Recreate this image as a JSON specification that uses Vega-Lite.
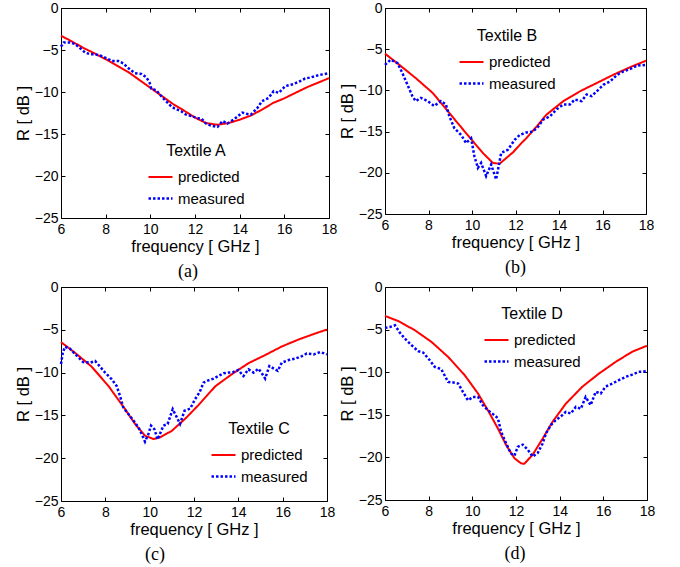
{
  "$schema": "https://vega.github.io/schema/vega-lite/v6.json",
  "background": "white",
  "padding": {"left": 14, "top": 0, "right": 5, "bottom": 5},
  "config": {
    "font": "Liberation Sans",
    "view": {"stroke": "black", "strokeWidth": 1},
    "axis": {"grid": false, "domain": false, "tickColor": "black", "tickSize": -4, "tickWidth": 1, "labelFlush": false, "labelColor": "black", "labelFontSize": 14, "labelFont": "Liberation Sans", "titleFont": "Liberation Sans", "titleFontSize": 16.5, "titleFontWeight": "normal", "titleColor": "black"},
    "axisX": {"labelPadding": 8, "titlePadding": 2},
    "axisY": {"labelPadding": 7, "titlePadding": 3},
    "legend": {"titleFontSize": 16, "titleFontWeight": "normal", "titleColor": "black", "titleFont": "Liberation Sans", "labelFont": "Liberation Sans", "labelFontSize": 15, "labelColor": "black", "titleAnchor": "middle", "symbolType": "stroke", "symbolSize": 576, "symbolStrokeWidth": 2.2, "labelOffset": 4, "rowPadding": -1.5, "titlePadding": 5},
    "title": {"font": "Liberation Serif", "fontSize": 18, "fontWeight": "normal", "orient": "bottom", "anchor": "middle", "color": "black", "offset": 8}
  },
  "datasets": {
    "A": [
      {"f":6,"R":-3.3,"s":"predicted"},{"f":6.5,"R":-4.0,"s":"predicted"},{"f":7,"R":-4.75,"s":"predicted"},{"f":7.5,"R":-5.4,"s":"predicted"},{"f":8,"R":-6.1,"s":"predicted"},{"f":8.5,"R":-6.85,"s":"predicted"},{"f":9,"R":-7.6,"s":"predicted"},{"f":9.5,"R":-8.55,"s":"predicted"},{"f":10,"R":-9.5,"s":"predicted"},{"f":10.5,"R":-10.45,"s":"predicted"},{"f":11,"R":-11.4,"s":"predicted"},{"f":11.5,"R":-12.2,"s":"predicted"},{"f":12,"R":-13.05,"s":"predicted"},{"f":12.5,"R":-13.7,"s":"predicted"},{"f":13,"R":-13.9,"s":"predicted"},{"f":13.5,"R":-13.7,"s":"predicted"},{"f":14,"R":-13.3,"s":"predicted"},{"f":14.5,"R":-12.8,"s":"predicted"},{"f":15,"R":-12.1,"s":"predicted"},{"f":15.5,"R":-11.3,"s":"predicted"},{"f":16,"R":-10.75,"s":"predicted"},{"f":16.5,"R":-10.1,"s":"predicted"},{"f":17,"R":-9.45,"s":"predicted"},{"f":17.5,"R":-8.9,"s":"predicted"},{"f":18,"R":-8.35,"s":"predicted"},
      {"f":6.0,"R":-4.6,"s":"measured"},{"f":6.12,"R":-4.1,"s":"measured"},{"f":6.41,"R":-4.1,"s":"measured"},{"f":6.64,"R":-4.3,"s":"measured"},{"f":6.86,"R":-4.8,"s":"measured"},{"f":7.08,"R":-5.3,"s":"measured"},{"f":7.3,"R":-5.5,"s":"measured"},{"f":7.52,"R":-5.5,"s":"measured"},{"f":7.75,"R":-5.66,"s":"measured"},{"f":7.97,"R":-5.9,"s":"measured"},{"f":8.27,"R":-6.3,"s":"measured"},{"f":8.56,"R":-6.3,"s":"measured"},{"f":8.79,"R":-6.6,"s":"measured"},{"f":9.01,"R":-7.15,"s":"measured"},{"f":9.3,"R":-7.75,"s":"measured"},{"f":9.6,"R":-7.85,"s":"measured"},{"f":9.82,"R":-8.25,"s":"measured"},{"f":9.97,"R":-8.9,"s":"measured"},{"f":10.04,"R":-9.6,"s":"measured"},{"f":10.27,"R":-9.8,"s":"measured"},{"f":10.49,"R":-10.5,"s":"measured"},{"f":10.71,"R":-11.1,"s":"measured"},{"f":10.93,"R":-11.7,"s":"measured"},{"f":11.08,"R":-11.95,"s":"measured"},{"f":11.38,"R":-12.3,"s":"measured"},{"f":11.6,"R":-12.7,"s":"measured"},{"f":11.82,"R":-12.85,"s":"measured"},{"f":12.12,"R":-13.1,"s":"measured"},{"f":12.3,"R":-13.2,"s":"measured"},{"f":12.49,"R":-13.75,"s":"measured"},{"f":12.71,"R":-14.0,"s":"measured"},{"f":13.01,"R":-14.15,"s":"measured"},{"f":13.23,"R":-13.45,"s":"measured"},{"f":13.45,"R":-13.75,"s":"measured"},{"f":13.75,"R":-13.25,"s":"measured"},{"f":14.12,"R":-12.45,"s":"measured"},{"f":14.3,"R":-12.6,"s":"measured"},{"f":14.5,"R":-12.7,"s":"measured"},{"f":14.78,"R":-11.95,"s":"measured"},{"f":15.0,"R":-11.1,"s":"measured"},{"f":15.3,"R":-10.7,"s":"measured"},{"f":15.52,"R":-9.9,"s":"measured"},{"f":15.75,"R":-10.1,"s":"measured"},{"f":16.04,"R":-9.3,"s":"measured"},{"f":16.34,"R":-9.1,"s":"measured"},{"f":16.64,"R":-8.8,"s":"measured"},{"f":16.93,"R":-8.4,"s":"measured"},{"f":17.2,"R":-8.25,"s":"measured"},{"f":17.52,"R":-8.0,"s":"measured"},{"f":17.82,"R":-7.85,"s":"measured"},{"f":18.0,"R":-7.75,"s":"measured"}
    ],
    "B": [
      {"f":6.0,"R":-5.54,"s":"predicted"},{"f":6.65,"R":-6.88,"s":"predicted"},{"f":7.41,"R":-8.5,"s":"predicted"},{"f":8.19,"R":-10.3,"s":"predicted"},{"f":8.96,"R":-12.75,"s":"predicted"},{"f":9.73,"R":-15.2,"s":"predicted"},{"f":10.5,"R":-17.6,"s":"predicted"},{"f":10.96,"R":-18.8,"s":"predicted"},{"f":11.27,"R":-18.9,"s":"predicted"},{"f":11.89,"R":-17.5,"s":"predicted"},{"f":12.27,"R":-16.4,"s":"predicted"},{"f":12.5,"R":-15.8,"s":"predicted"},{"f":13.0,"R":-14.3,"s":"predicted"},{"f":13.42,"R":-12.95,"s":"predicted"},{"f":14.2,"R":-11.3,"s":"predicted"},{"f":14.97,"R":-10.1,"s":"predicted"},{"f":15.74,"R":-9.1,"s":"predicted"},{"f":16.5,"R":-8.1,"s":"predicted"},{"f":17.28,"R":-7.17,"s":"predicted"},{"f":18.0,"R":-6.4,"s":"predicted"},
      {"f":6.0,"R":-6.9,"s":"measured"},{"f":6.26,"R":-6.27,"s":"measured"},{"f":6.57,"R":-6.68,"s":"measured"},{"f":6.8,"R":-7.9,"s":"measured"},{"f":7.03,"R":-9.3,"s":"measured"},{"f":7.26,"R":-10.7,"s":"measured"},{"f":7.41,"R":-11.3,"s":"measured"},{"f":7.65,"R":-10.9,"s":"measured"},{"f":7.96,"R":-11.3,"s":"measured"},{"f":8.26,"R":-11.9,"s":"measured"},{"f":8.57,"R":-11.3,"s":"measured"},{"f":8.8,"R":-11.7,"s":"measured"},{"f":8.96,"R":-13.15,"s":"measured"},{"f":9.19,"R":-14.6,"s":"measured"},{"f":9.5,"R":-15.4,"s":"measured"},{"f":9.73,"R":-16.4,"s":"measured"},{"f":9.96,"R":-15.8,"s":"measured"},{"f":10.11,"R":-18.0,"s":"measured"},{"f":10.27,"R":-19.4,"s":"measured"},{"f":10.42,"R":-18.8,"s":"measured"},{"f":10.65,"R":-20.4,"s":"measured"},{"f":10.88,"R":-19.0,"s":"measured"},{"f":11.11,"R":-20.8,"s":"measured"},{"f":11.34,"R":-17.6,"s":"measured"},{"f":11.65,"R":-17.2,"s":"measured"},{"f":11.96,"R":-16.0,"s":"measured"},{"f":12.2,"R":-15.4,"s":"measured"},{"f":12.5,"R":-15.1,"s":"measured"},{"f":12.8,"R":-15.0,"s":"measured"},{"f":13.04,"R":-14.4,"s":"measured"},{"f":13.27,"R":-13.55,"s":"measured"},{"f":13.58,"R":-13.15,"s":"measured"},{"f":13.89,"R":-12.3,"s":"measured"},{"f":14.2,"R":-11.7,"s":"measured"},{"f":14.5,"R":-11.7,"s":"measured"},{"f":14.73,"R":-11.1,"s":"measured"},{"f":15.04,"R":-11.3,"s":"measured"},{"f":15.27,"R":-10.5,"s":"measured"},{"f":15.5,"R":-10.7,"s":"measured"},{"f":15.82,"R":-9.9,"s":"measured"},{"f":16.05,"R":-9.3,"s":"measured"},{"f":16.36,"R":-8.9,"s":"measured"},{"f":16.67,"R":-8.1,"s":"measured"},{"f":16.97,"R":-7.7,"s":"measured"},{"f":17.28,"R":-7.4,"s":"measured"},{"f":17.58,"R":-7.0,"s":"measured"},{"f":18.0,"R":-6.9,"s":"measured"}
    ],
    "C": [
      {"f":6.0,"R":-6.44,"s":"predicted"},{"f":6.63,"R":-7.68,"s":"predicted"},{"f":7.38,"R":-9.3,"s":"predicted"},{"f":8.14,"R":-11.56,"s":"predicted"},{"f":8.89,"R":-14.27,"s":"predicted"},{"f":9.34,"R":-16.0,"s":"predicted"},{"f":9.79,"R":-17.37,"s":"predicted"},{"f":10.17,"R":-17.76,"s":"predicted"},{"f":10.47,"R":-17.56,"s":"predicted"},{"f":11.0,"R":-16.8,"s":"predicted"},{"f":11.6,"R":-15.4,"s":"predicted"},{"f":12.2,"R":-13.8,"s":"predicted"},{"f":12.96,"R":-11.6,"s":"predicted"},{"f":13.7,"R":-10.2,"s":"predicted"},{"f":14.46,"R":-8.9,"s":"predicted"},{"f":15.21,"R":-7.95,"s":"predicted"},{"f":15.96,"R":-6.95,"s":"predicted"},{"f":16.72,"R":-6.13,"s":"predicted"},{"f":17.47,"R":-5.43,"s":"predicted"},{"f":18.0,"R":-4.97,"s":"predicted"},
      {"f":6.0,"R":-9.0,"s":"measured"},{"f":6.08,"R":-7.7,"s":"measured"},{"f":6.18,"R":-6.98,"s":"measured"},{"f":6.4,"R":-7.2,"s":"measured"},{"f":6.7,"R":-8.0,"s":"measured"},{"f":7.0,"R":-8.77,"s":"measured"},{"f":7.31,"R":-8.84,"s":"measured"},{"f":7.54,"R":-8.65,"s":"measured"},{"f":7.76,"R":-9.3,"s":"measured"},{"f":7.99,"R":-10.0,"s":"measured"},{"f":8.29,"R":-10.78,"s":"measured"},{"f":8.51,"R":-11.56,"s":"measured"},{"f":8.66,"R":-12.7,"s":"measured"},{"f":8.81,"R":-14.07,"s":"measured"},{"f":9.04,"R":-14.85,"s":"measured"},{"f":9.27,"R":-15.6,"s":"measured"},{"f":9.49,"R":-16.4,"s":"measured"},{"f":9.64,"R":-17.17,"s":"measured"},{"f":9.79,"R":-18.07,"s":"measured"},{"f":9.94,"R":-17.2,"s":"measured"},{"f":10.06,"R":-16.2,"s":"measured"},{"f":10.21,"R":-16.6,"s":"measured"},{"f":10.36,"R":-17.8,"s":"measured"},{"f":10.62,"R":-16.2,"s":"measured"},{"f":10.81,"R":-16.0,"s":"measured"},{"f":11.04,"R":-14.27,"s":"measured"},{"f":11.22,"R":-15.2,"s":"measured"},{"f":11.37,"R":-16.0,"s":"measured"},{"f":11.57,"R":-14.46,"s":"measured"},{"f":11.83,"R":-14.2,"s":"measured"},{"f":12.05,"R":-13.1,"s":"measured"},{"f":12.25,"R":-12.3,"s":"measured"},{"f":12.43,"R":-11.17,"s":"measured"},{"f":12.65,"R":-10.9,"s":"measured"},{"f":12.88,"R":-10.7,"s":"measured"},{"f":13.1,"R":-10.4,"s":"measured"},{"f":13.33,"R":-10.08,"s":"measured"},{"f":13.56,"R":-10.0,"s":"measured"},{"f":13.78,"R":-9.93,"s":"measured"},{"f":14.0,"R":-9.7,"s":"measured"},{"f":14.23,"R":-10.4,"s":"measured"},{"f":14.46,"R":-9.62,"s":"measured"},{"f":14.69,"R":-10.0,"s":"measured"},{"f":14.91,"R":-9.54,"s":"measured"},{"f":15.09,"R":-10.2,"s":"measured"},{"f":15.21,"R":-10.7,"s":"measured"},{"f":15.4,"R":-9.23,"s":"measured"},{"f":15.6,"R":-9.54,"s":"measured"},{"f":15.78,"R":-9.8,"s":"measured"},{"f":15.96,"R":-8.84,"s":"measured"},{"f":16.27,"R":-8.53,"s":"measured"},{"f":16.57,"R":-8.37,"s":"measured"},{"f":16.87,"R":-8.07,"s":"measured"},{"f":17.09,"R":-7.76,"s":"measured"},{"f":17.4,"R":-7.87,"s":"measured"},{"f":17.7,"R":-7.6,"s":"measured"},{"f":18.0,"R":-7.87,"s":"measured"}
    ],
    "D": [
      {"f":6.0,"R":-3.4,"s":"predicted"},{"f":6.61,"R":-4.0,"s":"predicted"},{"f":7.37,"R":-5.08,"s":"predicted"},{"f":8.13,"R":-6.45,"s":"predicted"},{"f":8.89,"R":-8.2,"s":"predicted"},{"f":9.65,"R":-10.35,"s":"predicted"},{"f":10.26,"R":-12.5,"s":"predicted"},{"f":10.71,"R":-14.46,"s":"predicted"},{"f":11.17,"R":-16.6,"s":"predicted"},{"f":11.55,"R":-18.56,"s":"predicted"},{"f":11.93,"R":-20.1,"s":"predicted"},{"f":12.23,"R":-20.7,"s":"predicted"},{"f":12.38,"R":-20.75,"s":"predicted"},{"f":12.76,"R":-19.7,"s":"predicted"},{"f":13.22,"R":-17.8,"s":"predicted"},{"f":13.68,"R":-15.8,"s":"predicted"},{"f":14.28,"R":-13.7,"s":"predicted"},{"f":15.04,"R":-11.7,"s":"predicted"},{"f":15.8,"R":-10.16,"s":"predicted"},{"f":16.56,"R":-8.8,"s":"predicted"},{"f":17.32,"R":-7.6,"s":"predicted"},{"f":18.0,"R":-6.9,"s":"predicted"},
      {"f":6.0,"R":-4.8,"s":"measured"},{"f":6.23,"R":-4.69,"s":"measured"},{"f":6.46,"R":-4.5,"s":"measured"},{"f":6.68,"R":-5.36,"s":"measured"},{"f":6.91,"R":-6.06,"s":"measured"},{"f":7.22,"R":-6.84,"s":"measured"},{"f":7.52,"R":-7.54,"s":"measured"},{"f":7.75,"R":-7.7,"s":"measured"},{"f":8.05,"R":-8.6,"s":"measured"},{"f":8.28,"R":-9.38,"s":"measured"},{"f":8.58,"R":-9.65,"s":"measured"},{"f":8.89,"R":-11.14,"s":"measured"},{"f":9.12,"R":-11.2,"s":"measured"},{"f":9.35,"R":-11.33,"s":"measured"},{"f":9.57,"R":-12.3,"s":"measured"},{"f":9.8,"R":-13.3,"s":"measured"},{"f":10.03,"R":-12.9,"s":"measured"},{"f":10.26,"R":-12.9,"s":"measured"},{"f":10.48,"R":-13.87,"s":"measured"},{"f":10.71,"R":-14.46,"s":"measured"},{"f":11.01,"R":-15.04,"s":"measured"},{"f":11.17,"R":-15.4,"s":"measured"},{"f":11.32,"R":-17.0,"s":"measured"},{"f":11.55,"R":-18.37,"s":"measured"},{"f":11.77,"R":-19.54,"s":"measured"},{"f":11.93,"R":-19.8,"s":"measured"},{"f":12.08,"R":-18.76,"s":"measured"},{"f":12.31,"R":-18.5,"s":"measured"},{"f":12.54,"R":-19.1,"s":"measured"},{"f":12.76,"R":-19.9,"s":"measured"},{"f":12.99,"R":-19.5,"s":"measured"},{"f":13.22,"R":-18.37,"s":"measured"},{"f":13.37,"R":-17.2,"s":"measured"},{"f":13.6,"R":-16.2,"s":"measured"},{"f":13.83,"R":-15.6,"s":"measured"},{"f":14.05,"R":-15.2,"s":"measured"},{"f":14.28,"R":-14.65,"s":"measured"},{"f":14.51,"R":-14.85,"s":"measured"},{"f":14.74,"R":-14.07,"s":"measured"},{"f":14.97,"R":-14.3,"s":"measured"},{"f":15.19,"R":-12.9,"s":"measured"},{"f":15.42,"R":-13.87,"s":"measured"},{"f":15.65,"R":-12.3,"s":"measured"},{"f":15.88,"R":-12.5,"s":"measured"},{"f":16.1,"R":-11.7,"s":"measured"},{"f":16.41,"R":-11.33,"s":"measured"},{"f":16.71,"R":-10.94,"s":"measured"},{"f":17.02,"R":-10.55,"s":"measured"},{"f":17.32,"R":-10.28,"s":"measured"},{"f":17.62,"R":-9.96,"s":"measured"},{"f":18.0,"R":-9.88,"s":"measured"}
    ]
  },
  "columns": 2,
  "bounds": "flush",
  "spacing": {"row": 69, "column": 56},
  "resolve": {"scale": {"color": "independent", "strokeDash": "independent", "strokeWidth": "independent", "x": "independent", "y": "independent"}, "legend": {"color": "independent", "strokeDash": "independent"}},
  "concat": [
    {
      "width": 268, "height": 210,
      "data": {"name": "A"},
      "title": {"text": "(a)", "dx": -7},
      "resolve": {"axis": {"x": "independent", "y": "independent"}},
      "layer": [
        {
          "mark": {"type": "line", "strokeCap": "butt"},
          "encoding": {
            "x": {"field": "f", "type": "quantitative", "scale": {"domain": [6, 18], "nice": false}, "axis": {"values": [6, 8, 10, 12, 14, 16, 18], "title": "frequency [ GHz ]"}},
            "y": {"field": "R", "type": "quantitative", "scale": {"domain": [-25, 0], "nice": false}, "axis": {"values": [-25, -20, -15, -10, -5, 0], "title": "R [ dB ]"}},
            "color": {"field": "s", "type": "nominal", "scale": {"domain": ["predicted", "measured"], "range": ["#ff0000", "#0000ff"]}, "legend": {"title": "Textile A", "orient": "none", "legendX": 86, "legendY": 135}},
            "strokeDash": {"field": "s", "type": "nominal", "scale": {"domain": ["predicted", "measured"], "range": [[1, 0], [2.5, 2]]}, "legend": {"title": "Textile A", "orient": "none", "legendX": 86, "legendY": 135}},
            "strokeWidth": {"field": "s", "type": "nominal", "scale": {"domain": ["predicted", "measured"], "range": [2, 2.5]}, "legend": null}
          }
        },
        {
          "mark": {"type": "line", "opacity": 0},
          "encoding": {
            "x": {"field": "f", "type": "quantitative", "axis": {"orient": "top", "values": [6, 8, 10, 12, 14, 16, 18], "labels": false, "title": null}},
            "y": {"field": "R", "type": "quantitative", "axis": {"orient": "right", "values": [-25, -20, -15, -10, -5, 0], "labels": false, "title": null}},
            "detail": {"field": "s"}
          }
        }
      ]
    },
    {
      "width": 261, "height": 206,
      "data": {"name": "B"},
      "title": {"text": "(b)", "dx": 0},
      "resolve": {"axis": {"x": "independent", "y": "independent"}},
      "layer": [
        {
          "mark": {"type": "line", "strokeCap": "butt"},
          "encoding": {
            "x": {"field": "f", "type": "quantitative", "scale": {"domain": [6, 18], "nice": false}, "axis": {"values": [6, 8, 10, 12, 14, 16, 18], "title": "frequency [ GHz ]"}},
            "y": {"field": "R", "type": "quantitative", "scale": {"domain": [-25, 0], "nice": false}, "axis": {"values": [-25, -20, -15, -10, -5, 0], "title": "R [ dB ]"}},
            "color": {"field": "s", "type": "nominal", "scale": {"domain": ["predicted", "measured"], "range": ["#ff0000", "#0000ff"]}, "legend": {"title": "Textile B", "orient": "none", "legendX": 73, "legendY": 20}},
            "strokeDash": {"field": "s", "type": "nominal", "scale": {"domain": ["predicted", "measured"], "range": [[1, 0], [2.5, 2]]}, "legend": {"title": "Textile B", "orient": "none", "legendX": 73, "legendY": 20}},
            "strokeWidth": {"field": "s", "type": "nominal", "scale": {"domain": ["predicted", "measured"], "range": [2, 2.5]}, "legend": null}
          }
        },
        {
          "mark": {"type": "line", "opacity": 0},
          "encoding": {
            "x": {"field": "f", "type": "quantitative", "axis": {"orient": "top", "values": [6, 8, 10, 12, 14, 16, 18], "labels": false, "title": null}},
            "y": {"field": "R", "type": "quantitative", "axis": {"orient": "right", "values": [-25, -20, -15, -10, -5, 0], "labels": false, "title": null}},
            "detail": {"field": "s"}
          }
        }
      ]
    },
    {
      "width": 266, "height": 214,
      "data": {"name": "C"},
      "title": {"text": "(c)", "dx": -39},
      "resolve": {"axis": {"x": "independent", "y": "independent"}},
      "layer": [
        {
          "mark": {"type": "line", "strokeCap": "butt"},
          "encoding": {
            "x": {"field": "f", "type": "quantitative", "scale": {"domain": [6, 18], "nice": false}, "axis": {"values": [6, 8, 10, 12, 14, 16, 18], "title": "frequency [ GHz ]"}},
            "y": {"field": "R", "type": "quantitative", "scale": {"domain": [-25, 0], "nice": false}, "axis": {"values": [-25, -20, -15, -10, -5, 0], "title": "R [ dB ]"}},
            "color": {"field": "s", "type": "nominal", "scale": {"domain": ["predicted", "measured"], "range": ["#ff0000", "#0000ff"]}, "legend": {"title": "Textile C", "orient": "none", "legendX": 149, "legendY": 134}},
            "strokeDash": {"field": "s", "type": "nominal", "scale": {"domain": ["predicted", "measured"], "range": [[1, 0], [2.5, 2]]}, "legend": {"title": "Textile C", "orient": "none", "legendX": 149, "legendY": 134}},
            "strokeWidth": {"field": "s", "type": "nominal", "scale": {"domain": ["predicted", "measured"], "range": [2, 2.5]}, "legend": null}
          }
        },
        {
          "mark": {"type": "line", "opacity": 0},
          "encoding": {
            "x": {"field": "f", "type": "quantitative", "axis": {"orient": "top", "values": [6, 8, 10, 12, 14, 16, 18], "labels": false, "title": null}},
            "y": {"field": "R", "type": "quantitative", "axis": {"orient": "right", "values": [-25, -20, -15, -10, -5, 0], "labels": false, "title": null}},
            "detail": {"field": "s"}
          }
        }
      ]
    },
    {
      "width": 262, "height": 213,
      "data": {"name": "D"},
      "title": {"text": "(d)", "dx": -1},
      "resolve": {"axis": {"x": "independent", "y": "independent"}},
      "layer": [
        {
          "mark": {"type": "line", "strokeCap": "butt"},
          "encoding": {
            "x": {"field": "f", "type": "quantitative", "scale": {"domain": [6, 18], "nice": false}, "axis": {"values": [6, 8, 10, 12, 14, 16, 18], "title": "frequency [ GHz ]"}},
            "y": {"field": "R", "type": "quantitative", "scale": {"domain": [-25, 0], "nice": false}, "axis": {"values": [-25, -20, -15, -10, -5, 0], "title": "R [ dB ]"}},
            "color": {"field": "s", "type": "nominal", "scale": {"domain": ["predicted", "measured"], "range": ["#ff0000", "#0000ff"]}, "legend": {"title": "Textile D", "orient": "none", "legendX": 98, "legendY": 19}},
            "strokeDash": {"field": "s", "type": "nominal", "scale": {"domain": ["predicted", "measured"], "range": [[1, 0], [2.5, 2]]}, "legend": {"title": "Textile D", "orient": "none", "legendX": 98, "legendY": 19}},
            "strokeWidth": {"field": "s", "type": "nominal", "scale": {"domain": ["predicted", "measured"], "range": [2, 2.5]}, "legend": null}
          }
        },
        {
          "mark": {"type": "line", "opacity": 0},
          "encoding": {
            "x": {"field": "f", "type": "quantitative", "axis": {"orient": "top", "values": [6, 8, 10, 12, 14, 16, 18], "labels": false, "title": null}},
            "y": {"field": "R", "type": "quantitative", "axis": {"orient": "right", "values": [-25, -20, -15, -10, -5, 0], "labels": false, "title": null}},
            "detail": {"field": "s"}
          }
        }
      ]
    }
  ]
}
